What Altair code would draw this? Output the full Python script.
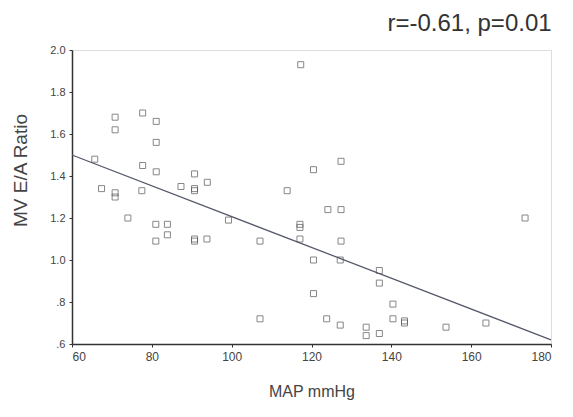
import altair as alt
import pandas as pd

# Scatter values
map_mmhg = [117.3, 70.8, 70.8, 77.7, 81.1, 81.1, 65.7, 77.7, 81.1, 90.7,
            93.9, 87.3, 90.7, 90.7, 67.4, 70.8, 70.8, 77.5, 113.9, 127.4,
            120.5, 74.0, 81.0, 83.9, 81.0, 83.9, 90.7, 90.7, 93.8, 99.2,
            107.1, 107.1, 117.1, 117.1, 117.1, 124.1, 127.4, 127.4, 120.5, 127.2,
            137.0, 137.0, 120.5, 140.4, 140.4, 123.8, 143.3, 143.3, 127.2, 133.7,
            133.7, 137.0, 153.7, 163.7, 173.5]
ea_ratio = [1.93, 1.68, 1.62, 1.70, 1.66, 1.56, 1.48, 1.45, 1.42, 1.41,
            1.37, 1.35, 1.34, 1.33, 1.34, 1.32, 1.30, 1.33, 1.33, 1.47,
            1.43, 1.20, 1.17, 1.17, 1.09, 1.12, 1.10, 1.09, 1.10, 1.19,
            1.09, 0.72, 1.17, 1.155, 1.10, 1.24, 1.24, 1.09, 1.00, 1.00,
            0.95, 0.89, 0.84, 0.79, 0.72, 0.72, 0.71, 0.70, 0.69, 0.68,
            0.64, 0.65, 0.68, 0.70, 1.20]

# Regression line endpoints
fit_x = [60, 180]
fit_y = [1.50, 0.62]

x_ticks = [60, 80, 100, 120, 140, 160, 180]
y_ticks = [0.6, 0.8, 1.0, 1.2, 1.4, 1.6, 1.8, 2.0]

pts = pd.DataFrame({"x": map_mmhg, "y": ea_ratio})
fit = pd.DataFrame({"x": fit_x, "y": fit_y})

FONT = "Liberation Sans"

xscale = alt.Scale(domain=[60, 180], nice=False, zero=False)
yscale = alt.Scale(domain=[0.6, 2.0], nice=False, zero=False)

xaxis = alt.Axis(values=x_ticks, title="MAP mmHg", grid=False, tickSize=3,
                 labelPadding=4, labelFontSize=12, labelColor="#444",
                 titleFontSize=16, titleFontWeight="normal", titleColor="#444",
                 titleY=52, titleBaseline="alphabetic",
                 domainColor="#333", tickColor="#333", domainWidth=1.5,
                 labelFont=FONT, titleFont=FONT)
yaxis = alt.Axis(values=y_ticks, title="MV E/A Ratio", grid=False, tickSize=3,
                 labelExpr="datum.value < 1 ? replace(format(datum.value, '.1f'), '0.', '.') : format(datum.value, '.1f')",
                 labelPadding=4, labelFontSize=11, labelColor="#444",
                 titleFontSize=19, titleFontWeight="normal", titleColor="#444",
                 titleX=-42, titleY=120, titleAngle=-90, titleBaseline="bottom",
                 domainColor="#333", tickColor="#333", domainWidth=1.5,
                 labelFont=FONT, titleFont=FONT)

points = alt.Chart(pts).mark_point(shape="square", filled=False, size=36,
                                   color="#555", strokeWidth=1).encode(
    x=alt.X("x:Q", scale=xscale, axis=xaxis),
    y=alt.Y("y:Q", scale=yscale, axis=yaxis),
)

line = alt.Chart(fit).mark_line(color="#555a6a", strokeWidth=1.3).encode(
    x=alt.X("x:Q", scale=xscale),
    y=alt.Y("y:Q", scale=yscale),
)

chart = (line + points).properties(
    width=479, height=294,
    autosize=alt.AutoSizeParams(type="none"),
    padding={"left": 64, "top": 42, "right": 14, "bottom": 60},
    title=alt.TitleParams("r=-0.61, p=0.01", anchor="end", fontSize=24,
                          font=FONT, fontWeight="normal", color="#333",
                          offset=8, dx=-2),
).configure_view(stroke="#333", strokeWidth=1.5).configure(background="white")

chart.save("out.html", embed_options={"renderer": "svg", "actions": False})
